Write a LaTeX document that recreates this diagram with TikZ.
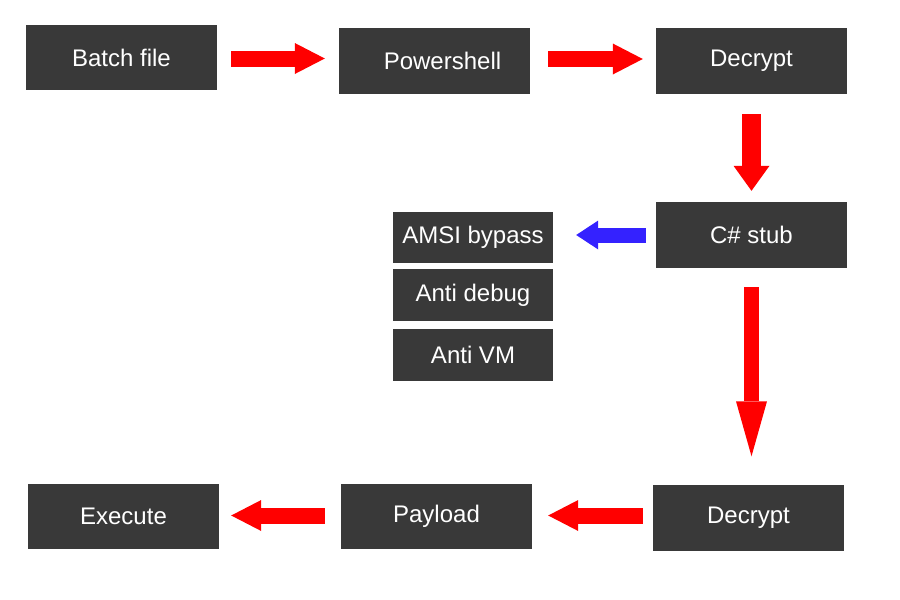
\documentclass[tikz,border=0pt]{standalone}
\usepackage{fontspec}
\setmainfont{Liberation Sans}
\usetikzlibrary{arrows.meta}
\definecolor{boxgray}{RGB}{57,57,57}
\definecolor{arrowblue}{RGB}{52,34,255}
\begin{document}
\begin{tikzpicture}[x=1pt,y=-1pt,
		stage/.style={fill=boxgray,text=white,inner sep=0pt,minimum width=191pt,minimum height=66pt,font=\fontsize{24}{28}\selectfont},
		check/.style={stage,minimum width=160pt,minimum height=52pt},
		redarrow/.style={draw=red,line width=16pt,-{Triangle[length=30pt,width=31pt,line width=0pt]}},
		bluearrow/.style={draw=arrowblue,line width=15pt,-{Triangle[length=22pt,width=29pt,line width=0pt]}}]
		\useasboundingbox (0,0) rectangle (900,600);

		% Top row
		\node[stage,minimum height=65pt] (batch) at (121.5,57.5) {Batch file};
		\node[stage] (power) at (434.5,61) {\hspace{16pt}Powershell};
		\node[stage] (decryptA) at (751.5,61) {Decrypt};
		\draw[redarrow,shorten <=14pt,shorten >=14pt] ([yshift=-1pt]batch.east) -- ([yshift=-1pt]batch.east -| power.west);
		\draw[redarrow,shorten <=18pt,shorten >=13pt] ([yshift=2pt]power.east) -- ([yshift=2pt]power.east -| decryptA.west);

		% Stub and checks
		\node[stage] (stub) at (751.5,235) {C\# stub};
		\node[check,minimum height=51pt] (amsi) at (473,237) {AMSI bypass};
		\node[check] (debug) at (473,295) {Anti debug};
		\node[check] (antivm) at (473,355) {Anti VM};
		\draw[redarrow,line width=19pt,-{Triangle[length=25pt,width=36pt,line width=0pt]},shorten <=20pt,shorten >=11pt] (decryptA.south) -- (decryptA.south |- stub.north);
		\draw[bluearrow,shorten <=10pt,shorten >=23pt] (stub.west) -- (stub.west -| amsi.east);

		% Bottom row
		\node[stage] (decryptB) at (748.5,517.5) {Decrypt};
		\node[stage,minimum height=65pt] (payload) at (436.5,516.5) {Payload};
		\node[stage,minimum height=65pt] (execute) at (123.5,516.5) {Execute};
		\draw[redarrow,line width=15pt,-{Triangle[length=55pt,width=31pt,line width=0pt]},shorten <=19pt,shorten >=28pt] (stub.south) -- (stub.south |- decryptB.north);
		\draw[redarrow,shorten <=10pt,shorten >=16pt] ([yshift=2pt]decryptB.west) -- ([yshift=2pt]decryptB.west -| payload.east);
		\draw[redarrow,shorten <=16pt,shorten >=12pt] ([yshift=1pt]payload.west) -- ([yshift=1pt]payload.west -| execute.east);
	\end{tikzpicture}
\end{document}
